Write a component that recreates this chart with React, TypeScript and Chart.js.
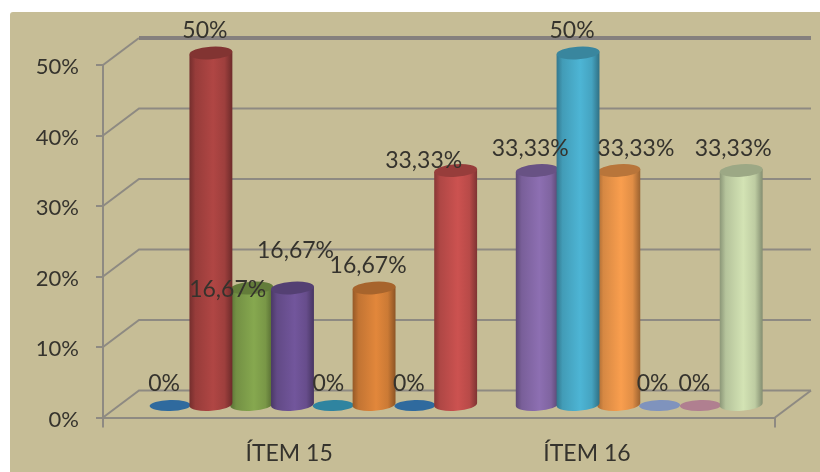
import { useEffect, useRef } from "react";
import { Chart, registerables } from "chart.js";

Chart.register(...registerables);

const categories = ["ÍTEM 15", "ÍTEM 16"];
const yTicks = [0, 10, 20, 30, 40, 50];

// One value per slot along the axis; the null slot separates the two groups.
const barValues = [0, 50, 16.67, 16.67, 0, 16.67, 0, 33.33, null, 33.33, 50, 33.33, 0, 0, 33.33];
const barColors = [
  "#2f6a9e", "#b04644", "#86a84f", "#72569c", "#2f84a0", "#e2873b", "#2f6a9e", "#cc5250",
  "#000000", "#8d6fb2", "#4db5d5", "#f99e4e", "#7f93bd", "#b07f90", "#d3e3b4",
];

// Hand placement of the value labels, relative to the top of each cylinder.
const labelNudges: [number, number][] = [
  [-6, -15], [-6, -15], [-24, 9], [3, -30], [-5, -15], [-6, -15], [-6, -15], [-32, -3],
  [0, 0], [-7, -15], [-6, -15], [17, -15], [-7, -15], [-6, -15], [-8, -15],
];

const PANEL = "#c6bd96";
const GRID = "#8e8a82";
const TOP_GRID = "#85807e";
const TEXT = "#35332d";
const FONT = "Lato";

// Floor depth of the box and the mid-depth plane the cylinders stand on.
const DEPTH_X = 36;
const DEPTH_Y = 27;
const BAR_SHIFT_X = 18;
const BAR_SHIFT_Y = 12;
const RX = 21.5;
const RY = 6.3;
const TILT = -0.07;
const FLAT_TILT = -0.03;

const X_MIN = -1.204;
const X_MAX = 15.27;
const CATEGORY_AT = [3.36, 10.66];

const shade = (hex: string, f: number) => {
  const n = parseInt(hex.slice(1), 16);
  const c = [(n >> 16) & 255, (n >> 8) & 255, n & 255].map((v) => Math.round(v * f));
  return `rgb(${c[0]},${c[1]},${c[2]})`;
};

const formatValue = (v: number) => `${String(v).replace(".", ",")}%`;

const panelPlugin = {
  id: "panel",
  beforeDraw(chart: any) {
    const { ctx, width, height } = chart;
    ctx.save();
    ctx.fillStyle = "#ffffff";
    ctx.fillRect(0, 0, width, height);
    ctx.fillStyle = PANEL;
    ctx.beginPath();
    ctx.roundRect(10, 12, width, height, 3);
    ctx.fill();
    ctx.restore();
  },
};

// Back wall lines, the diagonals running up to them and the floor edges.
const boxPlugin = {
  id: "box",
  beforeDatasetsDraw(chart: any) {
    const { ctx, scales } = chart;
    const { left, right } = chart.chartArea;
    ctx.save();
    ctx.lineCap = "butt";
    yTicks.forEach((t) => {
      const y = scales.y.getPixelForValue(t);
      const isTop = t === yTicks[yTicks.length - 1];
      ctx.strokeStyle = GRID;
      ctx.lineWidth = 2;
      ctx.beginPath();
      ctx.moveTo(left, y);
      ctx.lineTo(left + DEPTH_X, y - DEPTH_Y);
      if (!isTop) ctx.lineTo(right + DEPTH_X, y - DEPTH_Y);
      ctx.stroke();
      if (isTop) {
        ctx.strokeStyle = TOP_GRID;
        ctx.lineWidth = 4;
        ctx.beginPath();
        ctx.moveTo(left + DEPTH_X, y - DEPTH_Y);
        ctx.lineTo(right + DEPTH_X, y - DEPTH_Y);
        ctx.stroke();
      }
    });
    const y0 = scales.y.getPixelForValue(0);
    ctx.strokeStyle = GRID;
    ctx.lineWidth = 2;
    ctx.beginPath();
    ctx.moveTo(right, y0);
    ctx.lineTo(right + DEPTH_X, y0 - DEPTH_Y);
    ctx.stroke();
    ctx.restore();
  },
};

const cylinderPlugin = {
  id: "cylinders",
  afterDatasetsDraw(chart: any) {
    const { ctx } = chart;
    const bars = chart.getDatasetMeta(0).data as any[];
    const order = barValues
      .map((v, i) => ({ v, i }))
      .filter((d) => d.v !== null)
      .sort((a, b) => (a.v as number) - (b.v as number) || a.i - b.i);

    ctx.save();
    order.forEach(({ v, i }) => {
      const el = bars[i];
      const color = barColors[i];
      const cx = el.x + BAR_SHIFT_X;
      const topY = el.y - BAR_SHIFT_Y;
      const baseY = el.base - BAR_SHIFT_Y;
      if (v === 0) {
        ctx.fillStyle = color;
        ctx.beginPath();
        ctx.ellipse(cx, baseY, RX - 1, RY - 0.8, FLAT_TILT, 0, Math.PI * 2);
        ctx.fill();
        return;
      }
      const g = ctx.createLinearGradient(cx - RX, 0, cx + RX, 0);
      g.addColorStop(0, shade(color, 0.66));
      g.addColorStop(0.14, shade(color, 0.86));
      g.addColorStop(0.55, color);
      g.addColorStop(0.82, shade(color, 0.9));
      g.addColorStop(1, shade(color, 0.62));
      const ex = RX * Math.cos(TILT);
      const ey = RX * Math.sin(TILT);
      ctx.fillStyle = g;
      ctx.beginPath();
      ctx.moveTo(cx - ex, topY - ey);
      ctx.lineTo(cx - ex, baseY - ey);
      ctx.ellipse(cx, baseY, RX, RY, TILT, Math.PI, 0, true);
      ctx.lineTo(cx + ex, topY + ey);
      ctx.closePath();
      ctx.fill();
      ctx.fillStyle = shade(color, 0.74);
      ctx.beginPath();
      ctx.ellipse(cx, topY, RX, RY, TILT, 0, Math.PI * 2);
      ctx.fill();
    });

    ctx.fillStyle = TEXT;
    ctx.font = `23px ${FONT}`;
    ctx.textAlign = "center";
    ctx.textBaseline = "alphabetic";
    barValues.forEach((v, i) => {
      if (v === null) return;
      const el = bars[i];
      const [nx, ny] = labelNudges[i];
      ctx.fillText(formatValue(v), el.x + BAR_SHIFT_X + nx, el.y - BAR_SHIFT_Y + ny);
    });
    ctx.restore();
  },
};

export default function App() {
  const ref = useRef<HTMLCanvasElement>(null);

  useEffect(() => {
    const chart = new Chart(ref.current!, {
      type: "bar",
      data: {
        datasets: [
          {
            data: barValues.map((y, x) => ({ x, y })),
            backgroundColor: "transparent",
            barThickness: 43,
          },
        ],
      } as any,
      plugins: [panelPlugin, boxPlugin, cylinderPlugin],
      options: {
        animation: false,
        responsive: false,
        devicePixelRatio: 1,
        layout: { padding: { top: 65, right: 45, left: 0, bottom: 0 } },
        plugins: { legend: { display: false }, tooltip: { enabled: false } },
        scales: {
          x: {
            type: "linear",
            offset: false,
            min: X_MIN,
            max: X_MAX,
            afterFit: (s: any) => {
              s.height = 54.5;
            },
            afterBuildTicks: (s: any) => {
              s.ticks = [X_MIN, ...CATEGORY_AT, X_MAX].map((value) => ({ value }));
            },
            grid: {
              offset: false,
              drawOnChartArea: false,
              drawTicks: true,
              tickLength: 10,
              lineWidth: 2,
              tickColor: (c: any) => (c.index === 0 || c.index === 3 ? GRID : "transparent"),
            },
            border: { display: true, color: GRID, width: 2 },
            ticks: {
              autoSkip: false,
              maxRotation: 0,
              padding: 12,
              color: TEXT,
              font: { family: FONT, size: 23 },
              callback: (_v: any, i: number) => (i === 1 ? categories[0] : i === 2 ? categories[1] : ""),
            },
          },
          y: {
            min: 0,
            max: 50,
            afterFit: (s: any) => {
              s.width = 103;
            },
            afterBuildTicks: (s: any) => {
              s.ticks = yTicks.map((value) => ({ value }));
            },
            grid: { drawOnChartArea: false, drawTicks: true, tickLength: 7, lineWidth: 2, tickColor: GRID },
            border: { display: true, color: GRID, width: 2 },
            ticks: {
              padding: 17,
              labelOffset: 2,
              color: TEXT,
              font: { family: FONT, size: 22 },
              callback: (v: any) => `${v}%`,
            },
          },
        },
      },
    } as any);
    return () => chart.destroy();
  }, []);

  return (
    <canvas
      ref={ref}
      width={820}
      height={472}
      style={{ position: "absolute", left: 0, top: 0, width: 820, height: 472, display: "block" }}
    />
  );
}
